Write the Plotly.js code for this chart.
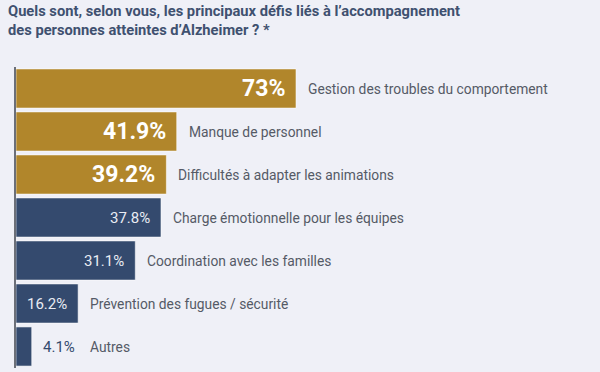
<!DOCTYPE html>
<html>
<head>
<meta charset="utf-8">
<script src="https://cdn.plot.ly/plotly-3.0.1.min.js"></script>
<style>
html,body{margin:0;padding:0;background:#eff0f7;}
#chart{width:600px;height:372px;}
</style>
</head>
<body>
<div id="chart"></div>
<script>
const categories = [
  "Gestion des troubles du comportement",
  "Manque de personnel",
  "Difficultés à adapter les animations",
  "Charge émotionnelle pour les équipes",
  "Coordination avec les familles",
  "Prévention des fugues / sécurité",
  "Autres"
];
const values = [73, 41.9, 39.2, 37.8, 31.1, 16.2, 4.1];
const valueLabels = ["73%", "41.9%", "39.2%", "37.8%", "31.1%", "16.2%", "4.1%"];
const highlighted = [true, true, true, false, false, false, false];

const GOLD = "#b1862b", BLUE = "#344a6e", BG = "#eff0f7";
const insideThreshold = 10;

const trace = {
  type: "bar",
  orientation: "h",
  y: categories,
  x: values,
  marker: {
    color: highlighted.map(h => h ? GOLD : BLUE),
    line: {color: "rgba(255,255,255,0.55)", width: 1}
  },
  hoverinfo: "skip"
};

const annotations = [];
values.forEach((v, i) => {
  const inside = v >= insideThreshold;
  annotations.push({
    x: v, y: categories[i], xref: "x", yref: "y",
    text: valueLabels[i],
    showarrow: false,
    xanchor: inside ? "right" : "left",
    yanchor: "middle",
    xshift: inside ? -9 : 9,
    font: {
      family: "Roboto",
      size: highlighted[i] ? 23 : 15,
      weight: highlighted[i] ? 700 : 400,
      color: inside ? (highlighted[i] ? "#ffffff" : "#e9ecf3") : BLUE
    }
  });
  annotations.push({
    x: v, y: categories[i], xref: "x", yref: "y",
    text: categories[i],
    showarrow: false,
    xanchor: "left",
    yanchor: "middle",
    xshift: inside ? 10 : 56,
    font: {family: "Roboto", size: 13.8, color: "#555a66"}
  });
});

const layout = {
  width: 600, height: 372,
  paper_bgcolor: BG, plot_bgcolor: BG,
  margin: {l: 16, r: 0, t: 67, b: 4},
  showlegend: false,
  bargap: 0.09,
  title: {
    text: "Quels sont, selon vous, les principaux défis liés à l’accompagnement<br>des personnes atteintes d’Alzheimer ? *",
    x: 8/600, xref: "container", xanchor: "left",
    y: 0.958, yref: "container", yanchor: "top",
    pad: {t: 0, l: 0},
    font: {family: "Roboto", size: 14.7, weight: 700, color: "#3f5170"}
  },
  xaxis: {
    range: [0, 152.25], showgrid: false, zeroline: false,
    showticklabels: false, showline: false, fixedrange: true
  },
  yaxis: {
    type: "category", autorange: "reversed",
    showgrid: false, zeroline: false, showticklabels: false,
    showline: true, linecolor: "#6b6f78", linewidth: 2, fixedrange: true
  },
  annotations: annotations
};

Plotly.newPlot("chart", [trace], layout, {displayModeBar: false, staticPlot: true});
</script>
</body>
</html>
